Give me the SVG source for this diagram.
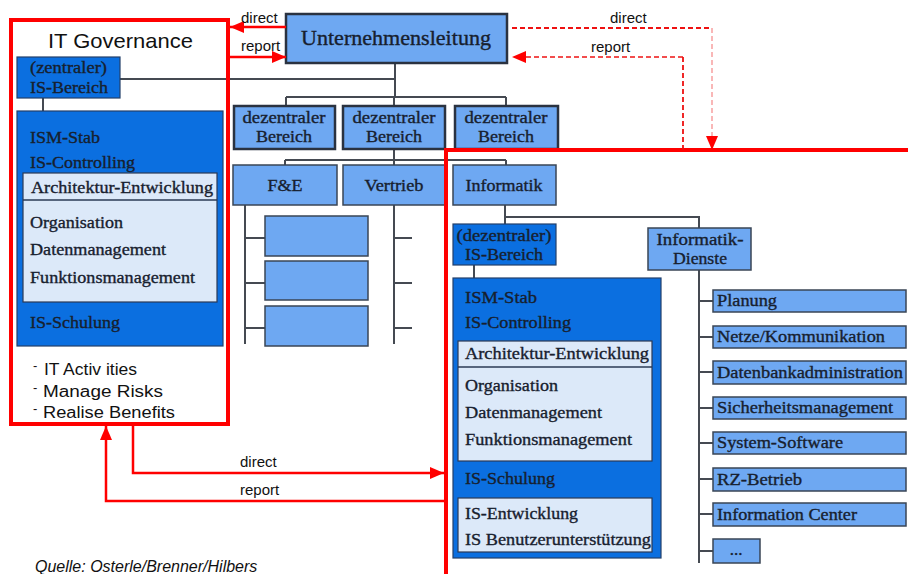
<svg xmlns="http://www.w3.org/2000/svg" width="908" height="574" viewBox="0 0 908 574">
<style>
.bg{fill:#ffffff}
.lb{fill:#6ea8f2;stroke:#3a4556;stroke-width:1.5}
.lbt{fill:#6ea8f2;stroke:#2a3240;stroke-width:2.5}
.db{fill:#0b6fe0;stroke:#24406a;stroke-width:1.2}
.pb{fill:#dce9f9;stroke:#2b3a55;stroke-width:1.2}
.s{font-family:"Liberation Serif","Times New Roman",serif;font-size:17px;fill:#17202e;stroke:#17202e;stroke-width:0.35}
.sc{font-family:"Liberation Serif","Times New Roman",serif;font-size:17px;fill:#17202e;stroke:#17202e;stroke-width:0.35;text-anchor:middle}
.a{font-family:"Liberation Sans",Arial,sans-serif;fill:#111}
.con{fill:none;stroke:#454a52;stroke-width:2}
.red{fill:none;stroke:#ff0000;stroke-width:4}
.ra{fill:none;stroke:#ff0000;stroke-width:2.5}
.rd{fill:none;stroke:#ee1111;stroke-width:1.8;stroke-dasharray:5 3}
.rp{fill:none;stroke:#f7a0a0;stroke-width:1.5;stroke-dasharray:5 3}
</style>
<defs>
<marker id="ah" markerUnits="userSpaceOnUse" markerWidth="16" markerHeight="14" refX="14" refY="6" orient="auto">
<path d="M0,0 L14,6 L0,12 z" fill="#ff0000"/>
</marker>
</defs>
<rect class="bg" x="0" y="0" width="908" height="574"/>

<g id="connectors">
<path class="con" d="M120,79 H395 M395,63 V97 M286,97 H506 M286,97 V106 M394,97 V106 M506,97 V106"/>
<path class="con" d="M394,149 V160 M285,160 H506 M285,160 V165 M394,160 V165 M506,160 V165"/>
<path class="con" d="M245,205 V344 M245,238 H265 M245,283 H265 M245,328 H265"/>
<path class="con" d="M394,205 V344 M394,238 H412 M394,283 H412 M394,328 H412"/>
<path class="con" d="M505,205 V224 M505,217 H699 V228"/>
<path class="con" d="M474,265 V278"/>
<path class="con" d="M43,98 V111"/>
<path class="con" d="M699,270 V563 M699,301 H713 M699,337 H713 M699,372 H713 M699,408 H713 M699,443 H713 M699,479 H713 M699,514 H713 M699,551 H713"/>
</g>

<g id="unternehmensleitung">
<rect class="lbt" x="286" y="14" width="221" height="49"/>
<text class="sc" x="396" y="45" textLength="190" lengthAdjust="spacingAndGlyphs" style="font-size:21px">Unternehmensleitung</text>
</g>

<g id="dez-bereich-1">
<rect class="lbt" x="234" y="106" width="101" height="43"/>
<text class="sc" x="284" y="123" textLength="83" lengthAdjust="spacingAndGlyphs">dezentraler</text>
<text class="sc" x="284" y="142" textLength="56" lengthAdjust="spacingAndGlyphs">Bereich</text>
</g>
<g id="dez-bereich-2">
<rect class="lbt" x="343" y="106" width="102" height="43"/>
<text class="sc" x="394" y="123" textLength="83" lengthAdjust="spacingAndGlyphs">dezentraler</text>
<text class="sc" x="394" y="142" textLength="56" lengthAdjust="spacingAndGlyphs">Bereich</text>
</g>
<g id="dez-bereich-3">
<rect class="lbt" x="455" y="106" width="103" height="43"/>
<text class="sc" x="506" y="123" textLength="83" lengthAdjust="spacingAndGlyphs">dezentraler</text>
<text class="sc" x="506" y="142" textLength="56" lengthAdjust="spacingAndGlyphs">Bereich</text>
</g>

<g id="fue">
<rect class="lb" x="233" y="165" width="104" height="40"/>
<text class="sc" x="285" y="191" textLength="35" lengthAdjust="spacingAndGlyphs">F&amp;E</text>
</g>
<g id="fue-sub">
<rect class="lb" x="265" y="216" width="103" height="40"/>
<rect class="lb" x="265" y="261" width="103" height="39"/>
<rect class="lb" x="265" y="306" width="103" height="40"/>
</g>
<g id="vertrieb">
<rect class="lb" x="343" y="165" width="102" height="40"/>
<text class="sc" x="394" y="191" textLength="59" lengthAdjust="spacingAndGlyphs">Vertrieb</text>
</g>
<g id="informatik">
<rect class="lb" x="453" y="165" width="103" height="40"/>
<text class="sc" x="504" y="191" textLength="77" lengthAdjust="spacingAndGlyphs">Informatik</text>
</g>

<g id="zentraler-is-bereich">
<rect class="db" x="17" y="57" width="103" height="41"/>
<text class="s" x="30" y="73" textLength="77" lengthAdjust="spacingAndGlyphs">(zentraler)</text>
<text class="s" x="30" y="93" textLength="78" lengthAdjust="spacingAndGlyphs">IS-Bereich</text>
</g>

<g id="ism-stab-zentral">
<rect class="db" x="17" y="111" width="206" height="235"/>
<rect class="pb" x="23" y="173" width="194" height="129"/>
<line x1="23" y1="200" x2="217" y2="200" stroke="#2b3a55" stroke-width="1.5"/>
<text class="s" x="30" y="143" textLength="70" lengthAdjust="spacingAndGlyphs">ISM-Stab</text>
<text class="s" x="30" y="168" textLength="105" lengthAdjust="spacingAndGlyphs">IS-Controlling</text>
<text class="s" x="31" y="193" textLength="182" lengthAdjust="spacingAndGlyphs">Architektur-Entwicklung</text>
<text class="s" x="30" y="228" textLength="93" lengthAdjust="spacingAndGlyphs">Organisation</text>
<text class="s" x="30" y="255" textLength="136" lengthAdjust="spacingAndGlyphs">Datenmanagement</text>
<text class="s" x="30" y="283" textLength="165" lengthAdjust="spacingAndGlyphs">Funktionsmanagement</text>
<text class="s" x="30" y="328" textLength="90" lengthAdjust="spacingAndGlyphs">IS-Schulung</text>
</g>

<g id="dezentraler-is-bereich">
<rect class="db" x="453" y="224" width="103" height="41"/>
<text class="sc" x="504" y="241" textLength="95" lengthAdjust="spacingAndGlyphs">(dezentraler)</text>
<text class="sc" x="504" y="260" textLength="78" lengthAdjust="spacingAndGlyphs">IS-Bereich</text>
</g>

<g id="informatik-dienste">
<rect class="lb" x="648" y="228" width="103" height="42"/>
<text class="sc" x="700" y="245" textLength="87" lengthAdjust="spacingAndGlyphs">Informatik-</text>
<text class="sc" x="700" y="264" textLength="54" lengthAdjust="spacingAndGlyphs">Dienste</text>
</g>

<g id="ism-stab-dezentral">
<rect class="db" x="453" y="278" width="208" height="280"/>
<rect class="pb" x="458" y="341" width="194" height="120"/>
<line x1="458" y1="367" x2="652" y2="367" stroke="#2b3a55" stroke-width="1.5"/>
<rect class="pb" x="458" y="498" width="194" height="54"/>
<text class="s" x="465" y="303" textLength="72" lengthAdjust="spacingAndGlyphs">ISM-Stab</text>
<text class="s" x="465" y="328" textLength="106" lengthAdjust="spacingAndGlyphs">IS-Controlling</text>
<text class="s" x="465" y="359" textLength="184" lengthAdjust="spacingAndGlyphs">Architektur-Entwicklung</text>
<text class="s" x="465" y="391" textLength="93" lengthAdjust="spacingAndGlyphs">Organisation</text>
<text class="s" x="465" y="418" textLength="137" lengthAdjust="spacingAndGlyphs">Datenmanagement</text>
<text class="s" x="465" y="445" textLength="167" lengthAdjust="spacingAndGlyphs">Funktionsmanagement</text>
<text class="s" x="465" y="484" textLength="90" lengthAdjust="spacingAndGlyphs">IS-Schulung</text>
<text class="s" x="465" y="519" textLength="113" lengthAdjust="spacingAndGlyphs">IS-Entwicklung</text>
<text class="s" x="465" y="545" textLength="186" lengthAdjust="spacingAndGlyphs">IS Benutzerunterstützung</text>
</g>

<g id="planung"><rect class="lb" x="713" y="290" width="193" height="22"/><text class="s" x="717" y="306" textLength="60" lengthAdjust="spacingAndGlyphs">Planung</text></g>
<g id="netze"><rect class="lb" x="713" y="326" width="193" height="22"/><text class="s" x="717" y="342" textLength="168" lengthAdjust="spacingAndGlyphs">Netze/Kommunikation</text></g>
<g id="datenbank"><rect class="lb" x="713" y="361" width="193" height="23"/><text class="s" x="717" y="378" textLength="186" lengthAdjust="spacingAndGlyphs">Datenbankadministration</text></g>
<g id="sicherheit"><rect class="lb" x="713" y="397" width="193" height="22"/><text class="s" x="717" y="413" textLength="176" lengthAdjust="spacingAndGlyphs">Sicherheitsmanagement</text></g>
<g id="system-software"><rect class="lb" x="713" y="432" width="193" height="22"/><text class="s" x="717" y="448" textLength="126" lengthAdjust="spacingAndGlyphs">System-Software</text></g>
<g id="rz-betrieb"><rect class="lb" x="713" y="468" width="193" height="23"/><text class="s" x="717" y="485" textLength="85" lengthAdjust="spacingAndGlyphs">RZ-Betrieb</text></g>
<g id="information-center"><rect class="lb" x="713" y="503" width="193" height="23"/><text class="s" x="717" y="520" textLength="140" lengthAdjust="spacingAndGlyphs">Information Center</text></g>
<g id="more"><rect class="lb" x="713" y="539" width="47" height="24"/><text class="sc" x="736" y="555">...</text></g>

<g id="it-governance">
<rect class="red" x="11" y="20" width="217" height="404"/>
<text class="a" x="48" y="48" font-size="21" textLength="145" lengthAdjust="spacingAndGlyphs">IT Governance</text>
<text class="a" x="33" y="370" font-size="13">-</text>
<text class="a" x="44" y="375" font-size="16" textLength="93" lengthAdjust="spacingAndGlyphs">IT Activ ities</text>
<text class="a" x="33" y="392" font-size="13">-</text>
<text class="a" x="43" y="397" font-size="16" textLength="120" lengthAdjust="spacingAndGlyphs">Manage  Risks</text>
<text class="a" x="33" y="413" font-size="13">-</text>
<text class="a" x="43" y="418" font-size="16" textLength="132" lengthAdjust="spacingAndGlyphs">Realise Benefits</text>
</g>

<g id="dezentral-frame">
<path class="red" d="M908,150 H446 V574"/>
</g>

<g id="red-connectors">
<line class="ra" x1="286" y1="27" x2="230" y2="27" marker-end="url(#ah)"/>
<line class="ra" x1="230" y1="57" x2="286" y2="57" marker-end="url(#ah)"/>
<text class="a" x="241" y="23" font-size="15">direct</text>
<text class="a" x="241" y="51" font-size="15">report</text>

<path class="rd" d="M512,28 H712"/>
<path class="rp" d="M712,28 V138"/>
<path d="M706,136 L718,136 L712,150 z" fill="#ff0000"/>
<path class="rd" d="M683,150 V57"/>
<path class="rd" d="M683,57 H524" stroke-opacity="0.75"/>
<path d="M526,51 L526,63 L512,57 z" fill="#ff0000"/>
<text class="a" x="610" y="23" font-size="15">direct</text>
<text class="a" x="591" y="52" font-size="15">report</text>

<polyline class="ra" points="133,425 133,473 444,473" marker-end="url(#ah)"/>
<polyline class="ra" points="445,501 106,501 106,426" marker-end="url(#ah)"/>
<text class="a" x="240" y="467" font-size="15">direct</text>
<text class="a" x="240" y="495" font-size="15">report</text>
</g>

<text class="a" x="35" y="572" font-size="16" font-style="italic">Quelle: Osterle/Brenner/Hilbers</text>
</svg>
